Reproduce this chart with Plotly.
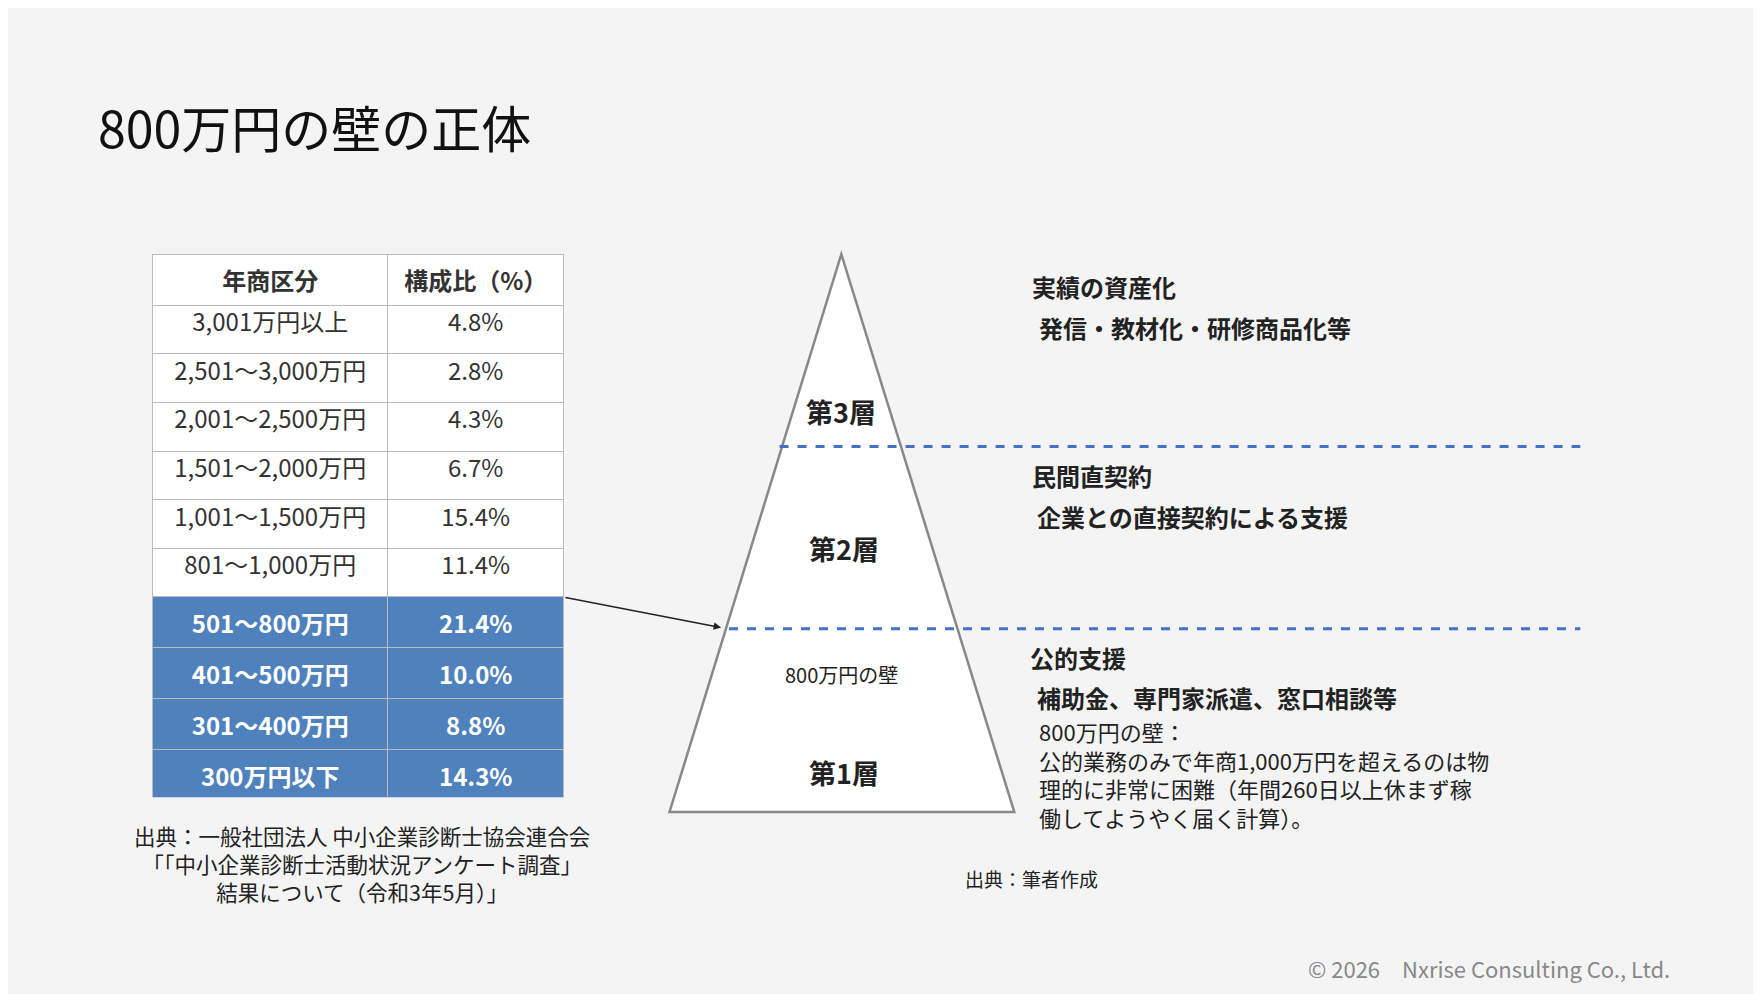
import plotly.graph_objects as go

W, H = 1568, 884
OX, OY = 8, 7  # compensate page offset
FONT = "Noto Sans CJK JP"

categories = ["3,001万円以上", "2,501～3,000万円", "2,001～2,500万円", "1,501～2,000万円",
              "1,001～1,500万円", "801～1,000万円", "501～800万円", "401～500万円",
              "301～400万円", "300万円以下"]
shares = [4.8, 2.8, 4.3, 6.7, 15.4, 11.4, 21.4, 10.0, 8.8, 14.3]
highlight = [False] * 6 + [True] * 4

blue = "#4F81BD"
fills = [blue if h else "white" for h in highlight]
fcolors = ["white" if h else "#333" for h in highlight]
cat_txt = [f"<b>{c}</b>" if h else c for c, h in zip(categories, highlight)]
share_txt = [f"<b>{s:.1f}%</b>" if h else f"{s:.1f}%" for s, h in zip(shares, highlight)]

fig = go.Figure()
fig.add_trace(go.Table(
    domain=dict(x=[(137 - OX) / W, (503 - OX) / W], y=[1 - (709 - OY) / H, 1 - (226 - OY) / H]),
    columnwidth=[209, 157],
    header=dict(values=["<b>年商区分</b>", "<b>構成比（%）</b>"], fill_color="white",
                line_color="#bbbbbb", align="center", height=48,
                font=dict(family=FONT, size=24, color="#333")),
    cells=dict(values=[cat_txt, share_txt], fill_color=[fills, fills],
               line_color="#bbbbbb", align="center", height=48.6,
               font=dict(family=FONT, size=24, color=[fcolors, fcolors])),
))

ax = dict(range=[OX, W + OX], visible=False, fixedrange=True)
fig.update_layout(width=1761, height=994, margin=dict(l=0, r=0, t=0, b=0),
                  paper_bgcolor="#f4f4f4", plot_bgcolor="rgba(0,0,0,0)",
                  xaxis=dict(ax, domain=[0, 1]),
                  yaxis=dict(range=[H + OY, OY], visible=False, fixedrange=True, domain=[0, 1]),
                  showlegend=False)

# pyramid
fig.add_shape(type="path", path="M 750 226 L 597 722 L 904 722 Z",
              line=dict(color="#888", width=2.5), fillcolor="white", layer="below")
for y0, x0 in [(397, 695), (559, 650)]:
    fig.add_shape(type="line", x0=x0, x1=1408, y0=y0, y1=y0,
                  line=dict(color="#4472C4", width=3, dash="dash"))
fig.add_annotation(x=643, y=558, ax=503, ay=531, xref="x", yref="y", axref="x", ayref="y",
                   showarrow=True, arrowhead=2, arrowsize=1, arrowwidth=1.5,
                   arrowcolor="#222", text="")

def txt(x, y, s, size=22, bold=False, anchor="left", color="#222"):
    fig.add_annotation(x=x, y=y, text=f"<b>{s}</b>" if bold else s, showarrow=False,
                       xanchor=anchor, yanchor="middle", align=anchor,
                       font=dict(family=FONT, size=size, color=color))

txt(86, 112, "800万円の壁の正体", size=50, bold=False, color="#111")
txt(750, 366, "第3層", 27, True, "center")
txt(752, 488, "第2層", 27, True, "center")
txt(750, 600, "800万円の壁", 20, False, "center")
txt(752, 687, "第1層", 27, True, "center")

txt(918, 255, "実績の資産化", 24, True)
txt(924, 291, "発信・教材化・研修商品化等", 24, True)
txt(918, 423, "民間直契約", 24, True)
txt(922, 459, "企業との直接契約による支援", 24, True)
txt(916, 585, "公的支援", 24, True)
txt(922, 620, "補助金、専門家派遣、窓口相談等", 24, True)
txt(924, 688, "800万円の壁：<br>公的業務のみで年商1,000万円を超えるのは物<br>理的に非常に困難（年間260日以上休まず稼<br>働してようやく届く計算）。", 22)

txt(323, 768, "出典：一般社団法人 中小企業診断士協会連合会<br>「「中小企業診断士活動状況アンケート調査」<br>結果について（令和3年5月）」", 21.5, False, "center")
txt(858, 781, "出典：筆者作成", 19)
txt(1490, 861, "© 2026　Nxrise Consulting Co., Ltd.", 22, False, "right", "#888")

fig.write_html("out.html")
